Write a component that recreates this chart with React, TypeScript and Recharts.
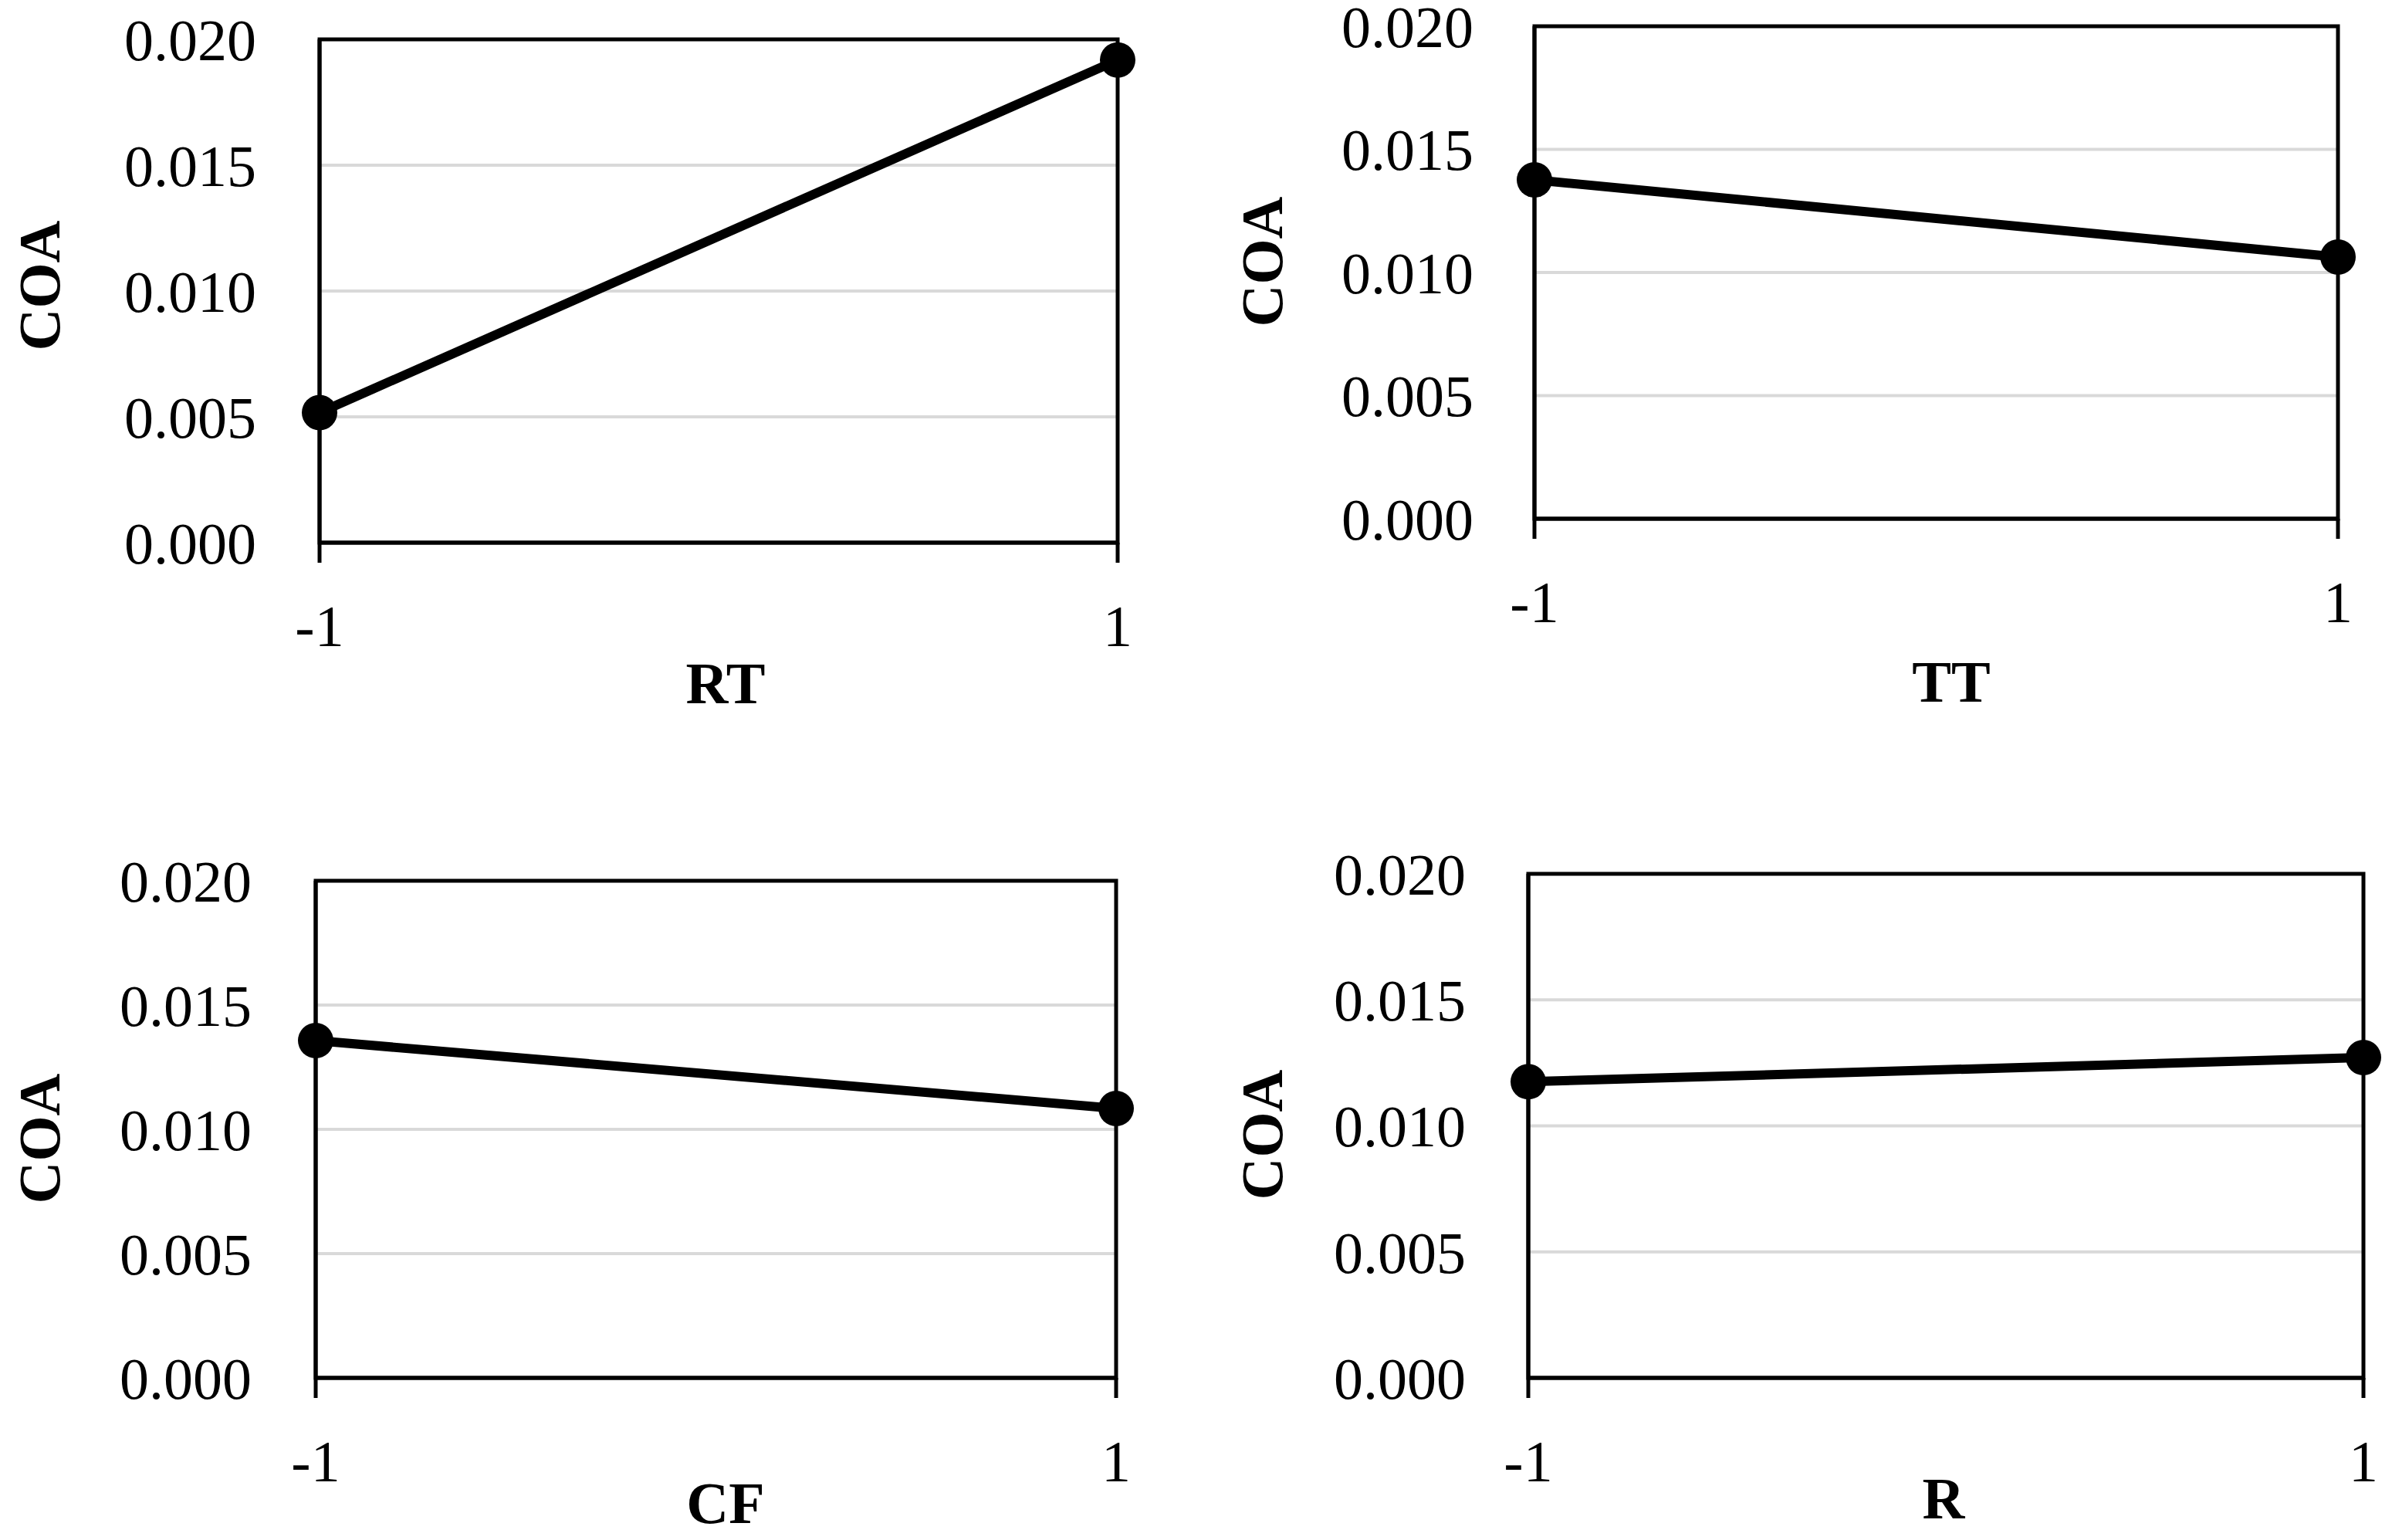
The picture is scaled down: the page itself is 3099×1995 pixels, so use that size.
import React from 'react';
import { LineChart, Line, XAxis, YAxis, CartesianGrid, ReferenceArea } from 'recharts';

// coded factor levels on the x axis
const levels = [-1, 1];

// COA
const rtCoa = [0.00517, 0.01918];
const ttCoa = [0.01376, 0.01063];
const cfCoa = [0.01357, 0.01084];
const rCoa = [0.01175, 0.01271];

const coaTicks = [0, 0.005, 0.01, 0.015, 0.02];

const FONT = '"Liberation Serif", "Times New Roman", serif';
const W = 1549;
const H = 997;

type Box = { l: number; t: number; r: number; b: number };

interface PanelProps {
  name: string;
  values: number[];
  ox: number;
  oy: number;
  box: Box;
  coaX: number;
  coaY: number;
  titleX: number;
  titleY: number;
  gap: number;
}

const Panel: React.FC<PanelProps> = ({ name, values, ox, oy, box, coaX, coaY, titleX, titleY, gap }) => {
  const data = levels.map((x, i) => ({ x, coa: values[i] }));
  const l = box.l - ox;
  const t = box.t - oy;
  const r = box.r - ox;
  const b = box.b - oy;

  return (
    <div style={{ position: 'absolute', left: ox, top: oy, width: W, height: H }}>
      <LineChart width={W} height={H} data={data} margin={{ top: t, right: W - r, bottom: 0, left: 0 }}>
        <CartesianGrid vertical={false} stroke="#d9d9d9" strokeWidth={4} />
        <XAxis
          dataKey="x"
          type="number"
          domain={[-1, 1]}
          ticks={levels}
          interval={0}
          height={H - b}
          axisLine={{ stroke: '#000', strokeWidth: 5 }}
          tickLine={{ stroke: '#000', strokeWidth: 5 }}
          tickSize={26}
          tickMargin={54}
          tick={{ fill: '#000', fontSize: 76, fontFamily: FONT }}
          label={{
            content: () => (
              <text
                x={titleX - ox}
                y={titleY - oy + 25}
                textAnchor="middle"
                fontFamily={FONT}
                fontSize={76}
                fontWeight="bold"
                fill="#000"
              >
                {name}
              </text>
            ),
          }}
        />
        <YAxis
          type="number"
          domain={[0, 0.02]}
          ticks={coaTicks}
          interval={0}
          width={l}
          axisLine={{ stroke: '#000', strokeWidth: 5 }}
          tickLine={false}
          tickSize={0}
          tickMargin={gap}
          tickFormatter={(v: number) => v.toFixed(3)}
          tick={{ fill: '#000', fontSize: 76, fontFamily: FONT }}
          label={{
            content: () => (
              <text
                x={coaX - ox + 25}
                y={coaY - oy}
                transform={`rotate(-90 ${coaX - ox + 25} ${coaY - oy})`}
                textAnchor="middle"
                fontFamily={FONT}
                fontSize={76}
                fontWeight="bold"
                fill="#000"
              >
                COA
              </text>
            ),
          }}
        />
        <ReferenceArea x1={-1} x2={1} y1={0} y2={0.02} fill="none" fillOpacity={0} stroke="#000" strokeWidth={5} />
        <Line
          type="linear"
          dataKey="coa"
          stroke="#000"
          strokeWidth={12}
          dot={{ r: 23, fill: '#000', stroke: '#000', strokeWidth: 0 }}
          activeDot={false}
          isAnimationActive={false}
        />
      </LineChart>
    </div>
  );
};

const App: React.FC = () => {
  return (
    <div style={{ position: 'absolute', left: 0, top: 0, width: 3099, height: 1995, background: '#fff' }}>
      <Panel
        name="RT"
        values={rtCoa}
        ox={0}
        oy={0}
        box={{ l: 414, t: 51, r: 1448, b: 703 }}
        coaX={52}
        coaY={370}
        titleX={940}
        titleY={886}
        gap={82}
      />
      <Panel
        name="TT"
        values={ttCoa}
        ox={1550}
        oy={0}
        box={{ l: 1988, t: 34, r: 3029, b: 672 }}
        coaX={1636}
        coaY={339}
        titleX={2528}
        titleY={884}
        gap={79}
      />
      <Panel
        name="CF"
        values={cfCoa}
        ox={0}
        oy={998}
        box={{ l: 409, t: 1141, r: 1446, b: 1785 }}
        coaX={52}
        coaY={1475}
        titleX={940}
        titleY={1948}
        gap={83}
      />
      <Panel
        name="R"
        values={rCoa}
        ox={1550}
        oy={998}
        box={{ l: 1980, t: 1132, r: 3062, b: 1785 }}
        coaX={1636}
        coaY={1470}
        titleX={2518}
        titleY={1942}
        gap={81}
      />
    </div>
  );
};

export default App;
